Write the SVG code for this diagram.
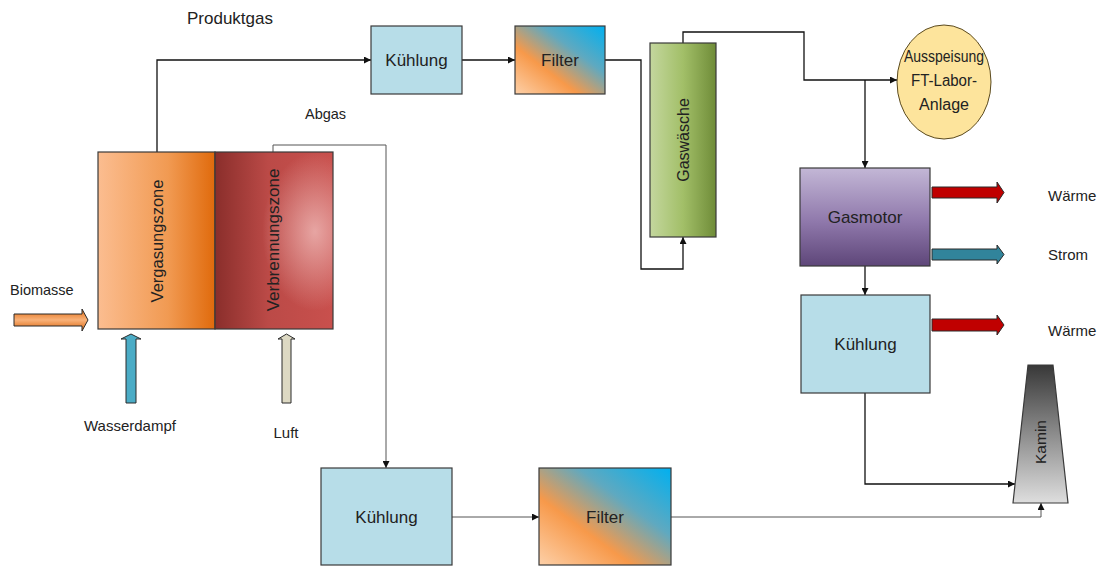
<svg xmlns="http://www.w3.org/2000/svg" width="1101" height="566" viewBox="0 0 1101 566">
<defs>
<style>
.lbl{font-family:"Liberation Sans",Arial,sans-serif;fill:#222;}
.box{stroke:#3a3a3a;stroke-width:1.2;}
.c1{fill:none;stroke:#111;stroke-width:1.3;}
.c2{fill:none;stroke:#555;stroke-width:1;}
.blk{stroke:#2a2a2a;stroke-width:1;}
</style>
<marker id="ah" viewBox="0 0 8 8" refX="8" refY="4" markerWidth="7" markerHeight="7" markerUnits="userSpaceOnUse" orient="auto">
<path d="M0,0 L8,4 L0,8 z" fill="#111"/>
</marker>
<linearGradient id="gVerg" x1="0" y1="0" x2="1" y2="0">
<stop offset="0" stop-color="#fbbd90"/>
<stop offset="0.6" stop-color="#f19a52"/>
<stop offset="1" stop-color="#e06a0c"/>
</linearGradient>
<linearGradient id="gVerb" x1="0" y1="0" x2="1" y2="0">
<stop offset="0" stop-color="#8a2e2b"/>
<stop offset="0.45" stop-color="#bb4a47"/>
<stop offset="1" stop-color="#c9504d"/>
</linearGradient>
<radialGradient id="gVerbHi" cx="0.85" cy="0.45" r="0.45">
<stop offset="0" stop-color="#f2c2c0" stop-opacity="0.75"/>
<stop offset="1" stop-color="#f2c2c0" stop-opacity="0"/>
</radialGradient>
<linearGradient id="gFilter" x1="0" y1="1" x2="1" y2="0">
<stop offset="0" stop-color="#fdd0a8"/>
<stop offset="0.35" stop-color="#f7994a"/>
<stop offset="0.65" stop-color="#5fa9c0"/>
<stop offset="1" stop-color="#00b0f0"/>
</linearGradient>
<linearGradient id="gGas" x1="0" y1="0" x2="1" y2="0">
<stop offset="0" stop-color="#c4d79e"/>
<stop offset="0.5" stop-color="#a2bf68"/>
<stop offset="1" stop-color="#6f8c38"/>
</linearGradient>
<linearGradient id="gMotor" x1="0" y1="0" x2="0" y2="1">
<stop offset="0" stop-color="#c3b7d6"/>
<stop offset="0.55" stop-color="#8f78ab"/>
<stop offset="1" stop-color="#5e4679"/>
</linearGradient>
<linearGradient id="gKamin" x1="0" y1="0" x2="0" y2="1">
<stop offset="0" stop-color="#383838"/>
<stop offset="0.5" stop-color="#8c8c8c"/>
<stop offset="1" stop-color="#dedede"/>
</linearGradient>
<linearGradient id="gBio" x1="0" y1="0" x2="0" y2="1">
<stop offset="0" stop-color="#e06a10"/>
<stop offset="0.5" stop-color="#f9b27a"/>
<stop offset="1" stop-color="#d9630a"/>
</linearGradient>
</defs>

<rect width="1101" height="566" fill="#ffffff"/>

<g id="connectors">
<path class="c1" d="M157,152 V60 H371" marker-end="url(#ah)"/>
<path class="c1" d="M462,60 H515" marker-end="url(#ah)"/>
<path class="c1" d="M605,60 H641 V269 H683 V237" marker-end="url(#ah)"/>
<path class="c1" d="M683,43 V32 H804 V80 H897" marker-end="url(#ah)"/>
<path class="c1" d="M865,80 V168" marker-end="url(#ah)"/>
<path class="c1" d="M865,266 V295" marker-end="url(#ah)"/>
<path class="c1" d="M865,393 V484 H1015" marker-end="url(#ah)"/>
<path class="c2" d="M273,152 V145 H386 V468" marker-end="url(#ah)"/>
<path class="c2" d="M452,517 H539" marker-end="url(#ah)"/>
<path class="c2" d="M671,517 H1041 V503" marker-end="url(#ah)"/>
</g>

<g id="labels">
<text class="lbl" x="187" y="24" font-size="17">Produktgas</text>
<text class="lbl" x="305" y="119" font-size="14.5">Abgas</text>
</g>

<g id="vergasungszone">
<rect class="box" x="98" y="152" width="117" height="177" fill="url(#gVerg)"/>
<text class="lbl" font-size="16.5" text-anchor="middle" transform="translate(163,241) rotate(-90)">Vergasungszone</text>
</g>

<g id="verbrennungszone">
<rect class="box" x="215" y="152" width="118" height="177" fill="url(#gVerb)"/>
<rect x="215.6" y="152.6" width="116.8" height="175.8" fill="url(#gVerbHi)"/>
<text class="lbl" font-size="17" text-anchor="middle" transform="translate(279,240) rotate(-90)">Verbrennungszone</text>
</g>

<g id="biomasse">
<path class="blk" d="M14,314 H82 V309 L88,320 L82,331 V326 H14 Z" fill="url(#gBio)"/>
<text class="lbl" x="10" y="295" font-size="14.5">Biomasse</text>
</g>

<g id="wasserdampf">
<path class="blk" d="M126,403 V339 H121 L131,334 L141,339 H136 V403 Z" fill="#4bacc6"/>
<text class="lbl" x="130" y="431" font-size="15" text-anchor="middle">Wasserdampf</text>
</g>

<g id="luft">
<path class="blk" d="M282,403 V339 H278 L286.5,334 L295,339 H291 V403 Z" fill="#ddd9c3"/>
<text class="lbl" x="286" y="438" font-size="15" text-anchor="middle">Luft</text>
</g>

<g id="kuehlung1">
<rect class="box" x="371" y="26" width="91" height="68" fill="#b7dde8"/>
<text class="lbl" x="416.5" y="66" font-size="17" text-anchor="middle">Kühlung</text>
</g>

<g id="filter1">
<rect class="box" x="515" y="26" width="90" height="68" fill="url(#gFilter)"/>
<text class="lbl" x="560" y="66" font-size="17" text-anchor="middle">Filter</text>
</g>

<g id="gaswaesche">
<rect class="box" x="650" y="43" width="66" height="194" fill="url(#gGas)"/>
<text class="lbl" font-size="16" text-anchor="middle" transform="translate(689,140) rotate(-90)">Gaswäsche</text>
</g>

<g id="ausspeisung">
<ellipse cx="944" cy="82" rx="47" ry="57" fill="#fde49c" stroke="#5a4a20" stroke-width="1"/>
<text class="lbl" x="944" y="62" font-size="16" text-anchor="middle" textLength="80" lengthAdjust="spacingAndGlyphs">Ausspeisung</text>
<text class="lbl" x="944" y="86" font-size="16" text-anchor="middle" textLength="66" lengthAdjust="spacingAndGlyphs">FT-Labor-</text>
<text class="lbl" x="944" y="110" font-size="16" text-anchor="middle" textLength="50" lengthAdjust="spacingAndGlyphs">Anlage</text>
</g>

<g id="gasmotor">
<rect class="box" x="800" y="168" width="130" height="98" fill="url(#gMotor)"/>
<text class="lbl" x="865" y="223" font-size="17" text-anchor="middle">Gasmotor</text>
</g>

<g id="waerme1">
<path class="blk" d="M932,187 H997 V182 L1004,192.5 L997,203 V198 H932 Z" fill="#c00000"/>
<text class="lbl" x="1048" y="201" font-size="15">Wärme</text>
</g>

<g id="strom">
<path class="blk" d="M932,249 H997 V245 L1004,254.5 L997,264 V260 H932 Z" fill="#31849b"/>
<text class="lbl" x="1048" y="260" font-size="15">Strom</text>
</g>

<g id="kuehlung2">
<rect class="box" x="801" y="295" width="129" height="98" fill="#b7dde8"/>
<text class="lbl" x="865.5" y="350" font-size="17" text-anchor="middle">Kühlung</text>
</g>

<g id="waerme2">
<path class="blk" d="M932,319 H997 V315 L1004,325 L997,335 V331 H932 Z" fill="#c00000"/>
<text class="lbl" x="1048" y="336" font-size="15">Wärme</text>
</g>

<g id="kamin">
<path class="box" d="M1028,365 H1053 L1068,503 H1013 Z" fill="url(#gKamin)"/>
<text class="lbl" font-size="15.5" text-anchor="middle" transform="translate(1046,442) rotate(-90)">Kamin</text>
</g>

<g id="kuehlung3">
<rect class="box" x="321" y="468" width="131" height="97" fill="#b7dde8"/>
<text class="lbl" x="386.5" y="523" font-size="17" text-anchor="middle">Kühlung</text>
</g>

<g id="filter2">
<rect class="box" x="539" y="468" width="132" height="97" fill="url(#gFilter)"/>
<text class="lbl" x="605" y="523" font-size="17" text-anchor="middle">Filter</text>
</g>
</svg>
